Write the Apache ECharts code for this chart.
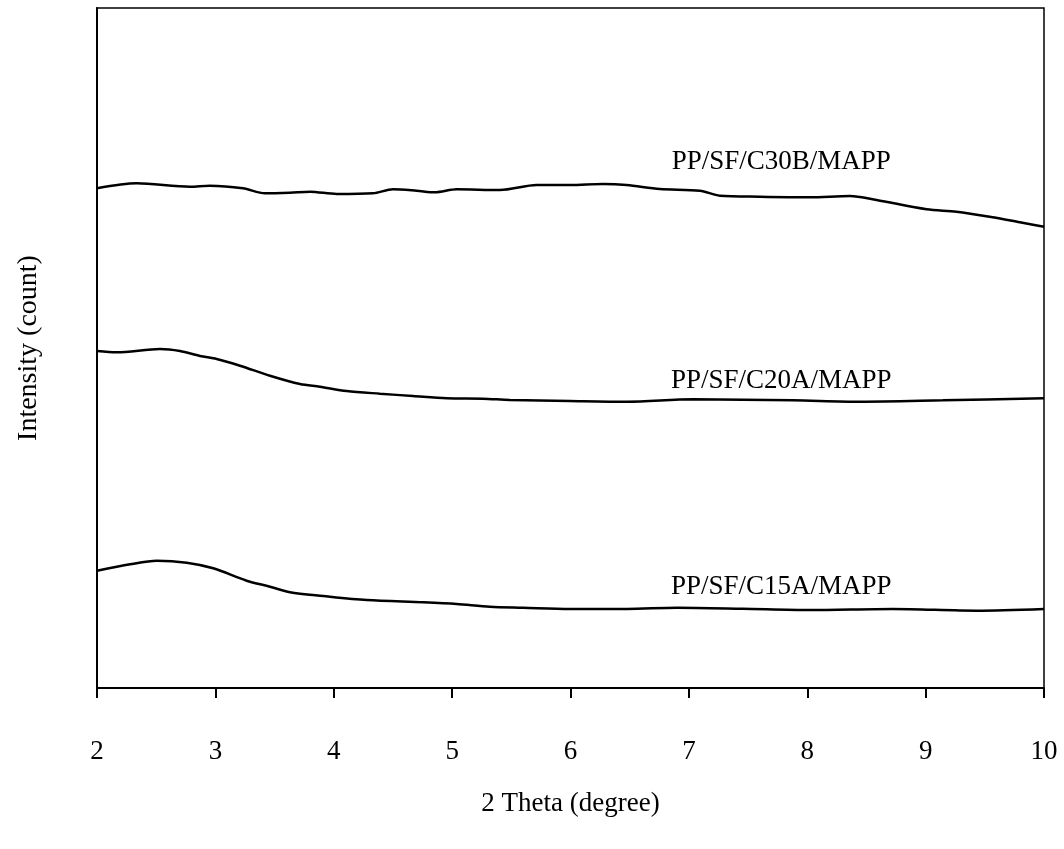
<!DOCTYPE html>
<html><head><meta charset="utf-8">
<script src="https://cdn.jsdelivr.net/npm/echarts@6/dist/echarts.min.js"></script>
<style>html,body{margin:0;padding:0;background:#fff}#c{width:1064px;height:849px}</style>
</head><body><div id="c"></div>
<script>
const xTicks = [2,3,4,5,6,7,8,9,10];
const seriesNames = ['PP/SF/C30B/MAPP','PP/SF/C20A/MAPP','PP/SF/C15A/MAPP'];
const c30bTheta = [2.00,2.335,2.785,2.954,3.233,3.419,3.630,3.799,4.024,4.331,4.500,4.700,4.855,5.038,5.404,5.714,5.995,6.274,6.474,6.755,7.093,7.262,7.600,8.022,8.360,8.585,9.008,9.261,9.568,9.796,10.00];
const c30bInt   = [499.7,504.7,501.3,502.3,499.7,494.7,495.3,496.3,494,494.7,498.7,497.3,495.7,498.7,498,503,503,504,503,499,497.3,492.3,491.3,490.7,492,488,478.7,476.3,470.7,465.7,461.3];
const c20aTheta = [2.00,2.166,2.532,2.701,2.870,3.011,3.208,3.461,3.715,3.883,4.109,4.390,4.669,4.954,5.260,5.488,5.995,6.476,7.034,7.878,8.444,9.145,10.00];
const c20aInt   = [337,335.7,339,337,332,329,322.3,312.3,304,301.3,297,294.3,292,289.7,289.3,288,287,286.3,288.7,287.7,286.3,287.7,289.7];
const c15aTheta = [2.00,2.279,2.504,2.758,2.982,3.264,3.461,3.630,3.911,4.278,4.756,5.038,5.319,5.601,5.995,6.476,6.899,7.456,8.022,8.723,9.432,10.00];
const c15aInt   = [117.3,123.7,127.3,125.3,119.7,107.3,101.3,95.7,92,88,85.7,84,81.3,80.3,79,79,80.3,79.3,78,79,77.3,79];
// label anchor points (data coords)
const labelTheta = [7.78,7.78,7.78];
const labelInt = [526,307,101];

const zip=(a,b)=>a.map((v,i)=>[v,b[i]]);
const font='"Liberation Serif","Times New Roman",serif';
const chart = echarts.init(document.getElementById('c'),null,{renderer:'canvas'});
const mk=(name,data)=>({name,type:'line',data,smooth:0.3,symbol:'none',lineStyle:{color:'#000',width:2.5},z:3});
chart.setOption({
  animation:false,
  backgroundColor:'#fff',
  grid:{left:97,right:20,top:8,bottom:161,show:true,borderColor:'#000',borderWidth:1.5,backgroundColor:'transparent'},
  xAxis:{type:'value',min:2,max:10,interval:1,
    name:'2 Theta (degree)',nameLocation:'middle',nameGap:102,
    nameTextStyle:{fontFamily:font,fontSize:27,color:'#000'},
    axisLine:{lineStyle:{color:'#000',width:2}},
    axisTick:{show:true,length:10,lineStyle:{color:'#000',width:2}},
    axisLabel:{margin:50,fontFamily:font,fontSize:27,color:'#000',formatter:v=>xTicks.includes(v)?String(v):''},
    splitLine:{show:false}},
  yAxis:{type:'value',min:0,max:680,
    name:'Intensity (count)',nameLocation:'middle',nameGap:54,
    nameTextStyle:{fontFamily:font,fontSize:28,color:'#000'},
    axisLine:{show:true,lineStyle:{color:'#000',width:2}},
    axisTick:{show:false},axisLabel:{show:false},splitLine:{show:false}},
  series:[
    mk(seriesNames[0],zip(c30bTheta,c30bInt)),
    mk(seriesNames[1],zip(c20aTheta,c20aInt)),
    mk(seriesNames[2],zip(c15aTheta,c15aInt)),
    {type:'scatter',symbolSize:0,silent:true,itemStyle:{opacity:1,color:'#000'},
     data:labelTheta.map((t,i)=>({value:[t,labelInt[i]],name:seriesNames[i]})),
     label:{show:true,position:'inside',opacity:1,formatter:p=>p.name,fontFamily:font,fontSize:27,color:'#000',textBorderWidth:0}}
  ]
});
</script></body></html>
